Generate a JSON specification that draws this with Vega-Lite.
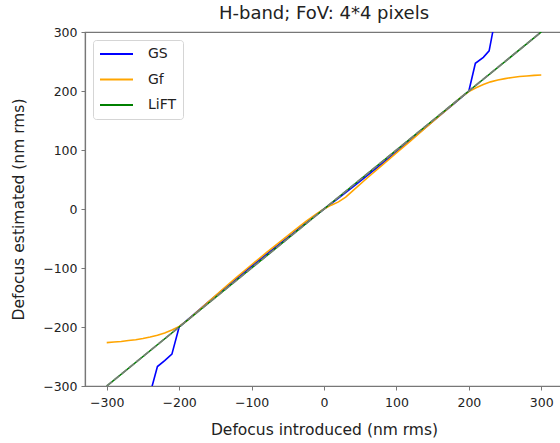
{
  "$schema": "https://vega.github.io/schema/vega-lite/v6.json",
  "autosize": "none",
  "padding": {"left": 85, "top": 32, "right": 0, "bottom": 57},
  "width": 478,
  "height": 354,
  "title": {"text": "H-band; FoV: 4*4 pixels", "font": "DejaVu Sans", "fontSize": 18, "fontWeight": "normal", "color": "#222", "offset": 3, "anchor": "middle"},
  "config": {
    "view": {"stroke": "#777", "strokeWidth": 1.2},
    "axis": {"domainColor": "#777", "tickColor": "#777", "labelColor": "#222", "titleColor": "#222", "labelFont": "DejaVu Sans", "titleFont": "DejaVu Sans", "labelFontSize": 12.5, "titleFontSize": 15.5, "titleFontWeight": "normal", "grid": false, "tickSize": 4, "domainWidth": 1.2}
  },
  "datasets": {
    "series": [
      {"x": -245, "y": -420, "method": "GS"},
      {"x": -237.5, "y": -301, "method": "GS"},
      {"x": -230, "y": -267, "method": "GS"},
      {"x": -220, "y": -257, "method": "GS"},
      {"x": -210, "y": -246, "method": "GS"},
      {"x": -200, "y": -200, "method": "GS"},
      {"x": -180, "y": -179, "method": "GS"},
      {"x": -160, "y": -158, "method": "GS"},
      {"x": -140, "y": -137.5, "method": "GS"},
      {"x": -120, "y": -117, "method": "GS"},
      {"x": -100, "y": -97, "method": "GS"},
      {"x": -80, "y": -77.5, "method": "GS"},
      {"x": -60, "y": -58, "method": "GS"},
      {"x": -40, "y": -38.5, "method": "GS"},
      {"x": -20, "y": -19, "method": "GS"},
      {"x": 0, "y": 0, "method": "GS"},
      {"x": 20, "y": 18.5, "method": "GS"},
      {"x": 40, "y": 37.5, "method": "GS"},
      {"x": 60, "y": 57, "method": "GS"},
      {"x": 80, "y": 77, "method": "GS"},
      {"x": 100, "y": 97, "method": "GS"},
      {"x": 120, "y": 117.5, "method": "GS"},
      {"x": 140, "y": 138, "method": "GS"},
      {"x": 160, "y": 158.5, "method": "GS"},
      {"x": 180, "y": 179, "method": "GS"},
      {"x": 200, "y": 200, "method": "GS"},
      {"x": 209, "y": 247, "method": "GS"},
      {"x": 220, "y": 257, "method": "GS"},
      {"x": 228, "y": 268, "method": "GS"},
      {"x": 233, "y": 300, "method": "GS"},
      {"x": 245, "y": 420, "method": "GS"},
      {"x": -300, "y": -226.5, "method": "Gf"},
      {"x": -290, "y": -225.5, "method": "Gf"},
      {"x": -280, "y": -224.5, "method": "Gf"},
      {"x": -270, "y": -223, "method": "Gf"},
      {"x": -260, "y": -221.5, "method": "Gf"},
      {"x": -250, "y": -219.5, "method": "Gf"},
      {"x": -240, "y": -217, "method": "Gf"},
      {"x": -230, "y": -214, "method": "Gf"},
      {"x": -220, "y": -210, "method": "Gf"},
      {"x": -210, "y": -205, "method": "Gf"},
      {"x": -200, "y": -199, "method": "Gf"},
      {"x": -190, "y": -190, "method": "Gf"},
      {"x": -180, "y": -179.5, "method": "Gf"},
      {"x": -160, "y": -158, "method": "Gf"},
      {"x": -140, "y": -136, "method": "Gf"},
      {"x": -120, "y": -115, "method": "Gf"},
      {"x": -100, "y": -94.5, "method": "Gf"},
      {"x": -80, "y": -74.5, "method": "Gf"},
      {"x": -60, "y": -55, "method": "Gf"},
      {"x": -40, "y": -35.5, "method": "Gf"},
      {"x": -25, "y": -21, "method": "Gf"},
      {"x": -10, "y": -8, "method": "Gf"},
      {"x": 0, "y": 0, "method": "Gf"},
      {"x": 10, "y": 6.5, "method": "Gf"},
      {"x": 20, "y": 12, "method": "Gf"},
      {"x": 30, "y": 20, "method": "Gf"},
      {"x": 40, "y": 31, "method": "Gf"},
      {"x": 60, "y": 53, "method": "Gf"},
      {"x": 80, "y": 74, "method": "Gf"},
      {"x": 100, "y": 95, "method": "Gf"},
      {"x": 120, "y": 116, "method": "Gf"},
      {"x": 140, "y": 137.5, "method": "Gf"},
      {"x": 160, "y": 158.5, "method": "Gf"},
      {"x": 180, "y": 179.5, "method": "Gf"},
      {"x": 190, "y": 190, "method": "Gf"},
      {"x": 200, "y": 199, "method": "Gf"},
      {"x": 210, "y": 205.5, "method": "Gf"},
      {"x": 220, "y": 211, "method": "Gf"},
      {"x": 230, "y": 215.5, "method": "Gf"},
      {"x": 240, "y": 218.5, "method": "Gf"},
      {"x": 250, "y": 221, "method": "Gf"},
      {"x": 260, "y": 223, "method": "Gf"},
      {"x": 270, "y": 224.5, "method": "Gf"},
      {"x": 280, "y": 225.5, "method": "Gf"},
      {"x": 290, "y": 226.5, "method": "Gf"},
      {"x": 300, "y": 227, "method": "Gf"},
      {"x": -300, "y": -300, "method": "LiFT"},
      {"x": -200, "y": -200, "method": "LiFT"},
      {"x": -100, "y": -100, "method": "LiFT"},
      {"x": 0, "y": 0, "method": "LiFT"},
      {"x": 100, "y": 100, "method": "LiFT"},
      {"x": 200, "y": 200, "method": "LiFT"},
      {"x": 300, "y": 300, "method": "LiFT"}
    ],
    "ideal": [
      {"x": -300, "y": -300},
      {"x": 300, "y": 300}
    ]
  },
  "layer": [
    {
      "data": {"name": "series"},
      "mark": {"type": "line", "clip": true, "strokeWidth": 1.6},
      "encoding": {
        "x": {"field": "x", "type": "quantitative", "scale": {"domain": [-330, 330], "nice": false, "zero": false}, "axis": {"values": [-300, -200, -100, 0, 100, 200, 300], "title": "Defocus introduced (nm rms)", "titlePadding": 14, "labelPadding": 6}},
        "y": {"field": "y", "type": "quantitative", "scale": {"domain": [-300, 300], "nice": false, "zero": false}, "axis": {"values": [-300, -200, -100, 0, 100, 200, 300], "title": "Defocus estimated (nm rms)", "titlePadding": 16, "labelPadding": 4}},
        "color": {"field": "method", "type": "nominal", "scale": {"domain": ["GS", "Gf", "LiFT"], "range": ["#0000ff", "#ffa500", "#008000"]},
          "legend": {"title": null, "orient": "top-left", "offset": 8, "symbolType": "stroke", "symbolSize": 1089, "symbolStrokeWidth": 1.8, "clipHeight": 16, "labelFont": "DejaVu Sans", "labelFontSize": 14, "labelColor": "#222", "rowPadding": 9.5, "labelOffset": 14, "strokeColor": "#d5d5d5", "fillColor": "white", "cornerRadius": 3, "padding": 6}}
      }
    },
    {
      "data": {"name": "ideal"},
      "mark": {"type": "line", "clip": true, "color": "gray", "strokeWidth": 1.8, "strokeDash": [7, 2.5], "opacity": 0.9},
      "encoding": {
        "x": {"field": "x", "type": "quantitative"},
        "y": {"field": "y", "type": "quantitative"}
      }
    }
  ]
}
